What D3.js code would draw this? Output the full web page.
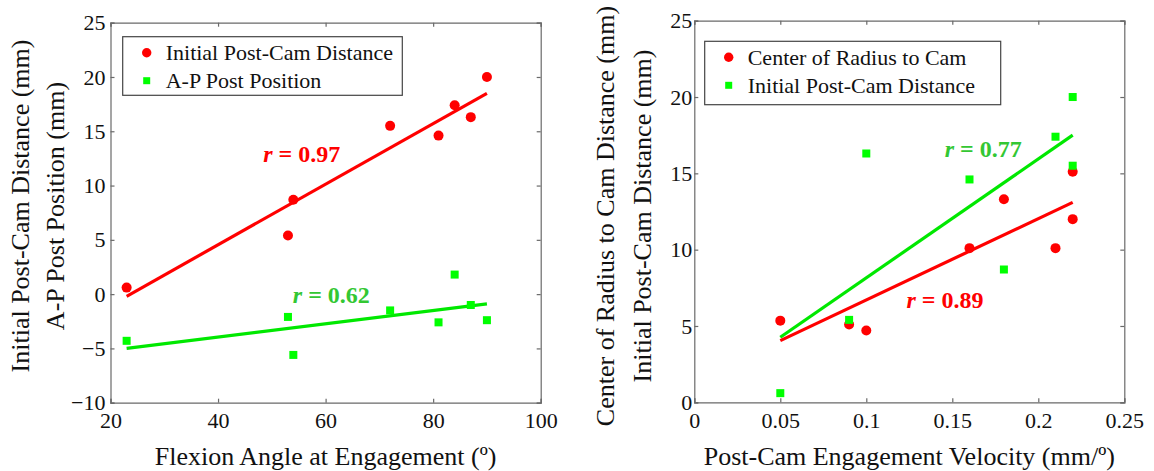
<!DOCTYPE html>
<html>
<head>
<meta charset="utf-8">
<script src="https://cdn.jsdelivr.net/npm/d3@7"></script>
<style>
  body { margin: 0; background: #fff; }
  svg { display: block; font-family: "Liberation Serif", "Times New Roman", serif; }
</style>
</head>
<body>
<svg id="chart" width="1154" height="471"></svg>
<script>
// left panel: flexion angle at engagement
const flexAngle = [23, 53, 54, 72, 81, 84, 87, 90];
const postCamDist = [0.6, 5.4, 8.7, 15.5, 14.6, 17.4, 16.3, 20.0];
const apPostPos = [-4.3, -2.1, -5.6, -1.5, -2.6, 1.8, -1.0, -2.4];
const flexFitX = [23, 90];
const postCamFit = [-0.2, 18.5];
const apPostFit = [-5.0, -0.9];

// right panel: engagement velocity
const velocity = [0.05, 0.09, 0.1, 0.16, 0.18, 0.21, 0.22, 0.22];
const radiusToCam = [5.35, 5.1, 4.7, 10.1, 13.3, 10.1, 15.1, 12.0];
const velPostCamDist = [0.6, 5.4, 16.3, 14.6, 8.7, 17.4, 20.0, 15.5];
const velFitX = [0.05, 0.22];
const radiusFit = [4.04, 13.1];
const velPostCamFit = [4.26, 17.5];

const leftXTicks = [20, 40, 60, 80, 100];
const leftYTicks = [-10, -5, 0, 5, 10, 15, 20, 25];
const rightXTicks = [0, 0.05, 0.1, 0.15, 0.2, 0.25];
const rightYTicks = [0, 5, 10, 15, 20, 25];

const RED = '#ff0000', GREEN = '#00ff00', GREEN_LINE = '#00e800', GREEN_TEXT = '#33c733';
const FRAME = '#6a6a6a';

const svg = d3.select('#chart');

function panel(opt) {
  const x = d3.scaleLinear().domain(opt.xDomain).range([opt.left, opt.right]);
  const y = d3.scaleLinear().domain(opt.yDomain).range([opt.bottom, opt.top]);
  const g = svg.append('g');

  // frame + inward ticks on all four sides
  const fmtX = opt.xFmt, fmtY = d => d3.format('d')(d);
  g.append('g').attr('transform', `translate(0,${opt.bottom})`)
    .call(d3.axisBottom(x).tickValues(opt.xTicks).tickSize(-4).tickPadding(12).tickFormat(fmtX));
  g.append('g').attr('transform', `translate(0,${opt.top})`)
    .call(d3.axisTop(x).tickValues(opt.xTicks).tickSize(-4).tickFormat(''));
  g.append('g').attr('transform', `translate(${opt.left},0)`)
    .call(d3.axisLeft(y).tickValues(opt.yTicks).tickSize(-4).tickPadding(opt.yPad).tickFormat(fmtY));
  g.append('g').attr('transform', `translate(${opt.right},0)`)
    .call(d3.axisRight(y).tickValues(opt.yTicks).tickSize(-4).tickFormat(''));
  g.selectAll('.domain, .tick line').attr('stroke', FRAME).attr('stroke-width', 1.2);
  g.selectAll('.tick text').attr('fill', '#111').attr('font-size', 22)
    .attr('font-family', '"Liberation Serif", serif');
  g.selectAll('.tick text').filter(function () { return this.getAttribute('dy') === '0.71em'; })
    .attr('dy', '0.62em');

  // fit lines
  opt.fits.forEach(f => {
    g.append('line')
      .attr('x1', x(f.x[0])).attr('y1', y(f.y[0]))
      .attr('x2', x(f.x[1])).attr('y2', y(f.y[1]))
      .attr('stroke', f.color).attr('stroke-width', 3.2);
  });

  // markers
  opt.series.forEach(s => {
    if (s.shape === 'circle') {
      g.selectAll(null).data(d3.zip(opt.xs, s.values)).join('circle')
        .attr('cx', d => x(d[0])).attr('cy', d => y(d[1])).attr('r', 5).attr('fill', s.color);
    } else {
      g.selectAll(null).data(d3.zip(opt.xs, s.values)).join('rect')
        .attr('x', d => x(d[0]) - 4).attr('y', d => y(d[1]) - 4)
        .attr('width', 8).attr('height', 8).attr('fill', s.color);
    }
  });

  // r labels
  opt.rLabels.forEach(l => {
    const t = g.append('text').attr('x', x(l.x)).attr('y', y(l.y))
      .attr('fill', l.color).attr('font-size', 24).attr('font-weight', 'bold');
    t.append('tspan').attr('font-style', 'italic').text('r');
    t.append('tspan').text(' = ' + l.text);
  });

  // legend
  const lg = opt.legend;
  g.append('rect').attr('x', lg.x).attr('y', lg.y).attr('width', lg.w).attr('height', lg.h)
    .attr('fill', '#fff').attr('stroke', '#444').attr('stroke-width', 1.2);
  opt.series.forEach((s, i) => {
    const cy = lg.y + 16 + i * 28;
    if (s.shape === 'circle') {
      g.append('circle').attr('cx', lg.x + 24).attr('cy', cy).attr('r', 4.7).attr('fill', s.color);
    } else {
      g.append('rect').attr('x', lg.x + 20.5).attr('y', cy - 3.5).attr('width', 7).attr('height', 7).attr('fill', s.color);
    }
    g.append('text').attr('x', lg.x + 43).attr('y', cy + 7.5)
      .attr('font-size', 22).attr('fill', '#111').text(s.name);
  });

  // axis titles
  g.append('text').attr('x', (opt.left + opt.right) / 2).attr('y', 465)
    .attr('text-anchor', 'middle').attr('font-size', 26).attr('fill', '#111').text(opt.xTitle);
  opt.yTitles.forEach(t => {
    g.append('text').attr('transform', `translate(${t.x},${t.cy}) rotate(-90)`)
      .attr('text-anchor', 'middle').attr('font-size', 26).attr('fill', '#111').text(t.text);
  });
}

panel({
  left: 110.5, right: 540.7, top: 22.7, bottom: 402.7,
  xDomain: [20, 100], yDomain: [-10, 25],
  xTicks: leftXTicks, yTicks: leftYTicks, yPad: 5,
  xFmt: d3.format('d'),
  xs: flexAngle,
  series: [
    { name: 'Initial Post-Cam Distance', values: postCamDist, color: RED, shape: 'circle' },
    { name: 'A-P Post Position', values: apPostPos, color: GREEN, shape: 'square' }
  ],
  fits: [
    { x: flexFitX, y: postCamFit, color: RED },
    { x: flexFitX, y: apPostFit, color: GREEN_LINE }
  ],
  rLabels: [
    { x: 48.4, y: 12.14, text: '0.97', color: RED },
    { x: 53.9, y: -0.85, text: '0.62', color: GREEN_TEXT }
  ],
  legend: { x: 122.7, y: 36.7, w: 279.6, h: 58.6 },
  xTitle: 'Flexion Angle at Engagement (º)',
  yTitles: [
    { text: 'Initial Post-Cam Distance (mm)', x: 29, cy: 206 },
    { text: 'A-P Post Position (mm)', x: 64, cy: 206 }
  ]
});

panel({
  left: 694.3, right: 1124.3, top: 20.7, bottom: 402.3,
  xDomain: [0, 0.25], yDomain: [0, 25],
  xTicks: rightXTicks, yTicks: rightYTicks, yPad: 2,
  xFmt: d => d === 0 ? '0' : String(+d.toFixed(2)),
  xs: velocity,
  series: [
    { name: 'Center of Radius to Cam', values: radiusToCam, color: RED, shape: 'circle' },
    { name: 'Initial Post-Cam Distance', values: velPostCamDist, color: GREEN, shape: 'square' }
  ],
  fits: [
    { x: velFitX, y: velPostCamFit, color: GREEN_LINE },
    { x: velFitX, y: radiusFit, color: RED }
  ],
  rLabels: [
    { x: 0.1456, y: 16.09, text: '0.77', color: GREEN_TEXT },
    { x: 0.1233, y: 6.16, text: '0.89', color: RED }
  ],
  legend: { x: 704.7, y: 41.3, w: 296, h: 63.4 },
  xTitle: 'Post-Cam Engagement Velocity (mm/º)',
  yTitles: [
    { text: 'Center of Radius to Cam Distance (mm)', x: 614, cy: 216 },
    { text: 'Initial Post-Cam Distance (mm)', x: 651, cy: 216 }
  ]
});
</script>
</body>
</html>
